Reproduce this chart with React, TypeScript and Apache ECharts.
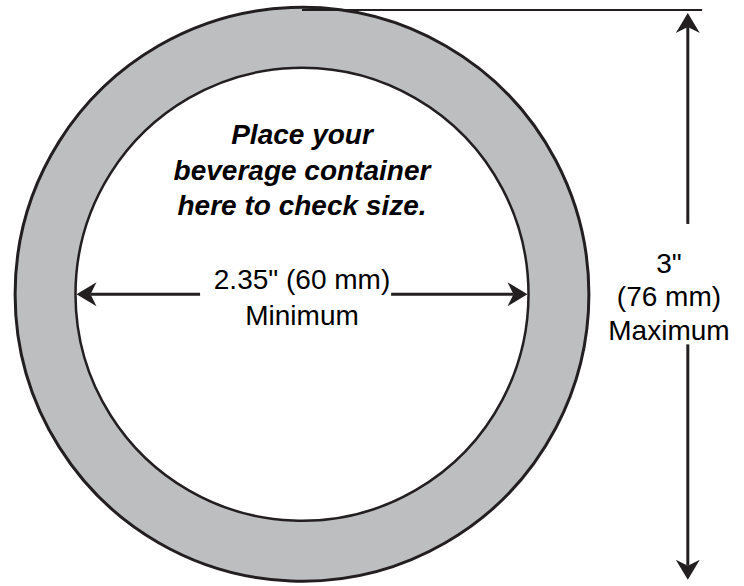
import React, { useEffect, useRef } from "react";
import * as echarts from "echarts";

// Diagram dimensions, in millimetres (drawn to scale through hidden value axes)
const ringDiametersMm = [76, 60]; // outer (maximum), inner (minimum)
const noteLines = ["Place your", "beverage container", "here to check size."];
const noteLinesYMm = [21.42, 16.56, 11.92];
const minLabelLines = ['2.35" (60 mm)', "Minimum"];
const minLabelYMm = [1.95, -2.82];
const maxLabelLines = ['3"', "(76 mm)", "Maximum"];
const maxLabelYMm = [4.07, -0.35, -4.85];
const maxLabelXMm = 48.6;
const dimLineXMm = 51.1; // vertical dimension arrow
const dimArrowEndsMm = [-38.15, 37.6]; // tips of the vertical arrow
const extLineEndXMm = 53; // extension line at the top
const minGapMm = [-13.5, 11.8]; // gap in horizontal arrow for label
const maxGapMm = [-6.7, 9.4]; // gap in vertical arrow for label

const xRange = [-40, 58];
const yRange = [-39, 39];
const PX_PER_MM = 7.55;

const INK = "#231f20";
const RING = "#bcbec0";

function arrowHead(tip: number[], dir: number[]) {
  const len = 20, half = 12, notch = 14;
  const n = [-dir[1], dir[0]];
  return {
    points: [
      tip,
      [tip[0] - len * dir[0] + half * n[0], tip[1] - len * dir[1] + half * n[1]],
      [tip[0] - notch * dir[0], tip[1] - notch * dir[1]],
      [tip[0] - len * dir[0] - half * n[0], tip[1] - len * dir[1] - half * n[1]],
    ],
    base: [tip[0] - notch * dir[0], tip[1] - notch * dir[1]],
  };
}

export default function App() {
  const ref = useRef<HTMLDivElement>(null);
  useEffect(() => {
    document.body.style.margin = "0";
    const chart = echarts.init(ref.current!, null, { renderer: "svg" });
    const outerR = ringDiametersMm[0] / 2;
    const innerR = ringDiametersMm[1] / 2;
    const renderItem = (_params: any, api: any) => {
      const c = api.coord([0, 0]);
      const rOut = api.size([outerR, 0])[0];
      const rIn = api.size([innerR, 0])[0];
      const children: any[] = [];
      children.push({
        type: "circle",
        shape: { cx: c[0], cy: c[1], r: rOut },
        style: { fill: RING, stroke: INK, lineWidth: 3 },
      });
      children.push({
        type: "circle",
        shape: { cx: c[0], cy: c[1], r: rIn },
        style: { fill: "#ffffff", stroke: INK, lineWidth: 2.5 },
      });
      // top extension line
      const top = api.coord([0, outerR]);
      const topEnd = api.coord([extLineEndXMm, outerR]);
      children.push({
        type: "line",
        shape: { x1: top[0], y1: top[1], x2: topEnd[0], y2: topEnd[1] },
        style: { stroke: INK, lineWidth: 2 },
      });
      // horizontal arrow (minimum)
      const hl = api.coord([-innerR, 0]);
      const hr = api.coord([innerR, 0]);
      const g1 = api.coord([minGapMm[0], 0]);
      const g2 = api.coord([minGapMm[1], 0]);
      const ahL = arrowHead([hl[0] + 1, hl[1]], [-1, 0]);
      const ahR = arrowHead([hr[0] - 1, hr[1]], [1, 0]);
      children.push({ type: "line", shape: { x1: ahL.base[0], y1: ahL.base[1], x2: g1[0], y2: g1[1] }, style: { stroke: INK, lineWidth: 3 } });
      children.push({ type: "line", shape: { x1: g2[0], y1: g2[1], x2: ahR.base[0], y2: ahR.base[1] }, style: { stroke: INK, lineWidth: 3 } });
      children.push({ type: "polygon", shape: { points: ahL.points }, style: { fill: INK } });
      children.push({ type: "polygon", shape: { points: ahR.points }, style: { fill: INK } });
      // vertical arrow (maximum)
      const vt = api.coord([dimLineXMm, dimArrowEndsMm[1]]);
      const vb = api.coord([dimLineXMm, dimArrowEndsMm[0]]);
      const v1 = api.coord([dimLineXMm, maxGapMm[1]]);
      const v2 = api.coord([dimLineXMm, maxGapMm[0]]);
      const ahT = arrowHead(vt, [0, -1]);
      const ahB = arrowHead(vb, [0, 1]);
      children.push({ type: "line", shape: { x1: ahT.base[0], y1: ahT.base[1], x2: v1[0], y2: v1[1] }, style: { stroke: INK, lineWidth: 3 } });
      children.push({ type: "line", shape: { x1: v2[0], y1: v2[1], x2: ahB.base[0], y2: ahB.base[1] }, style: { stroke: INK, lineWidth: 3 } });
      children.push({ type: "polygon", shape: { points: ahT.points }, style: { fill: INK } });
      children.push({ type: "polygon", shape: { points: ahB.points }, style: { fill: INK } });
      // texts
      const addText = (txt: string, xm: number, ym: number, italicBold: boolean) => {
        const p = api.coord([xm, ym]);
        children.push({
          type: "text",
          x: p[0],
          y: p[1],
          style: {
            text: txt,
            fill: "#000000",
            fontFamily: "'Liberation Sans', Arial, sans-serif",
            fontSize: 28,
            fontWeight: italicBold ? "bold" : "normal",
            fontStyle: italicBold ? "italic" : "normal",
            align: "center",
            verticalAlign: "middle",
          },
        });
      };
      noteLines.forEach((t, i) => addText(t, 0, noteLinesYMm[i], true));
      minLabelLines.forEach((t, i) => addText(t, 0, minLabelYMm[i], false));
      maxLabelLines.forEach((t, i) => addText(t, maxLabelXMm, maxLabelYMm[i], false));
      return { type: "group", children };
    };
    const cx = 302, cy = 297;
    chart.setOption({
      animation: false,
      grid: {
        left: cx + xRange[0] * PX_PER_MM,
        top: cy - yRange[1] * PX_PER_MM,
        width: (xRange[1] - xRange[0]) * PX_PER_MM,
        height: (yRange[1] - yRange[0]) * PX_PER_MM,
        containLabel: false,
      },
      xAxis: { type: "value", min: xRange[0], max: xRange[1], show: false },
      yAxis: { type: "value", min: yRange[0], max: yRange[1], show: false },
      series: [
        {
          type: "custom",
          clip: false,
          silent: true,
          data: [[0, 0]],
          encode: { x: 0, y: 1 },
          renderItem,
        },
      ],
    });
    return () => chart.dispose();
  }, []);
  return <div ref={ref} style={{ width: 744, height: 586 }} />;
}
